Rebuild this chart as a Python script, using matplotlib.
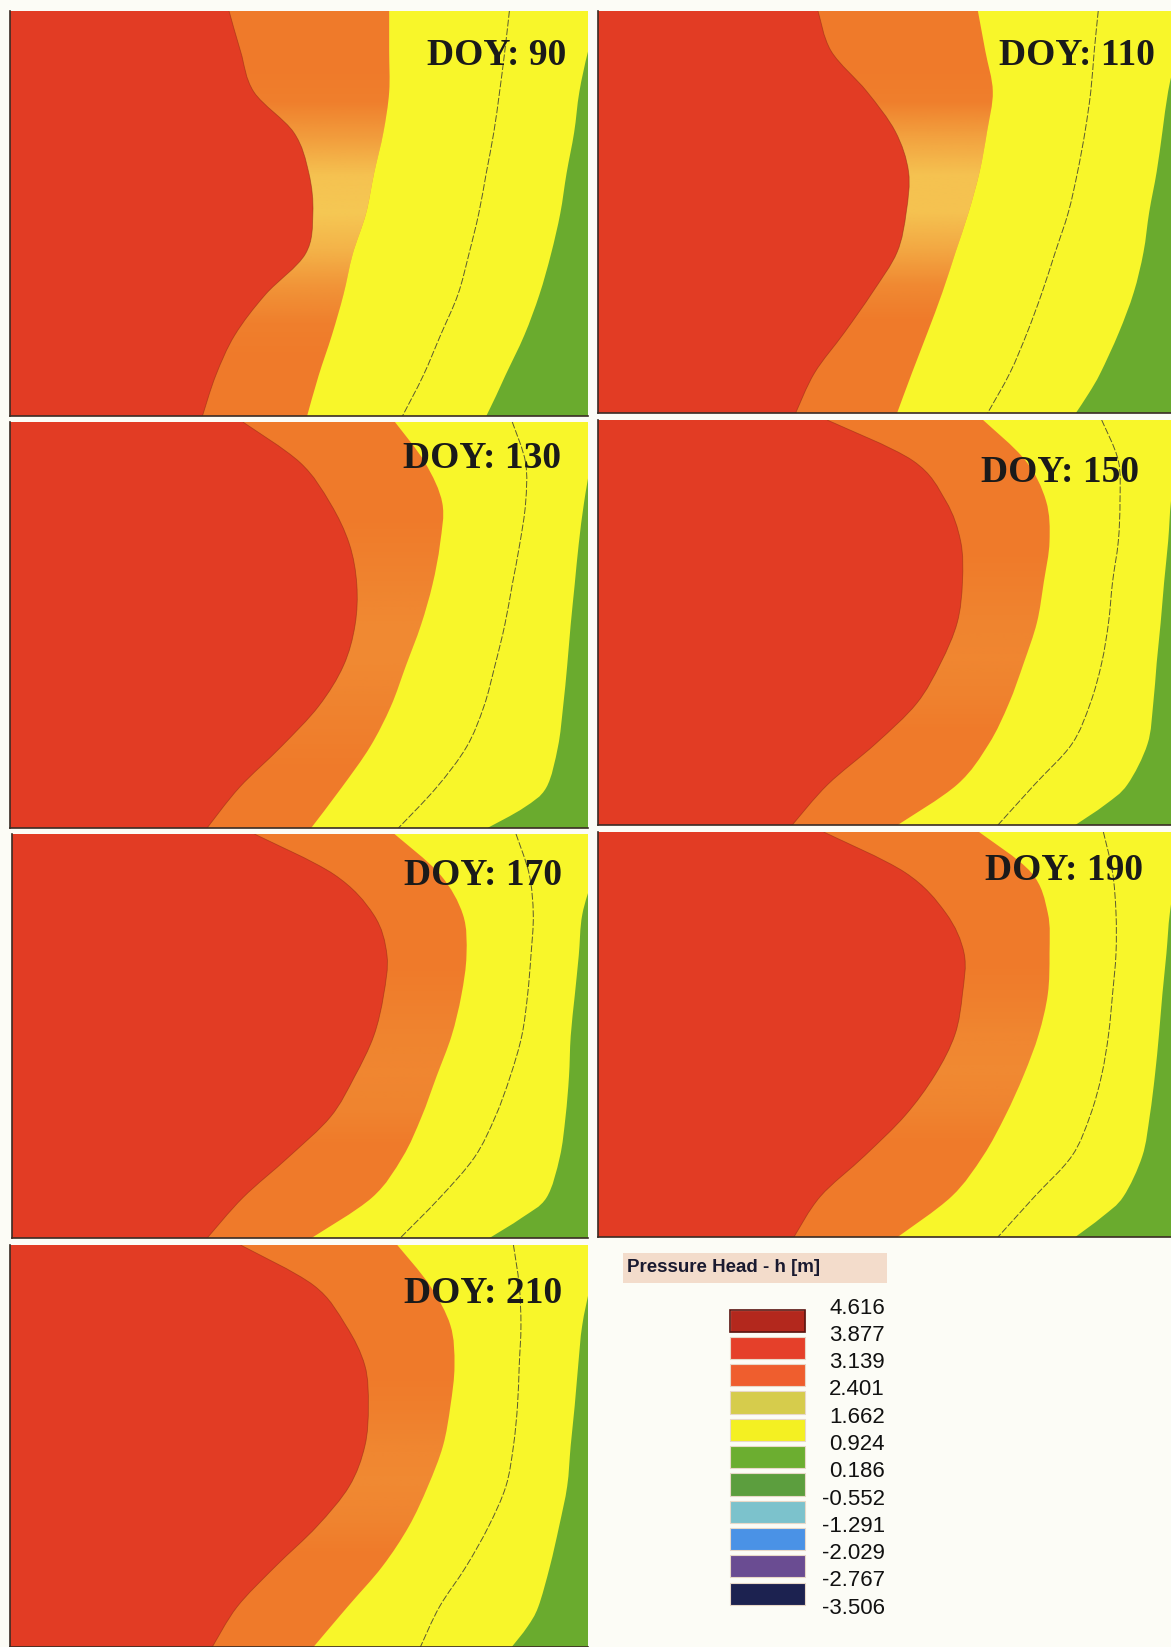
import numpy as np
import matplotlib
matplotlib.use('Agg')
import matplotlib.pyplot as plt
from matplotlib.path import Path
from matplotlib.patches import PathPatch, Rectangle

# Pressure head snapshots, day of year
doy = [90, 110, 130, 150, 170, 190, 210]

# relative depth (0 = top of section, 1 = bottom)
depth = [0.0, 0.1, 0.2, 0.3, 0.4, 0.5, 0.6, 0.7, 0.8, 0.9, 1.0]
depth_green = [0.0, 0.1, 0.2, 0.3, 0.4, 0.5, 0.6, 0.7, 0.8, 0.9, 0.95, 1.0]

# horizontal position (fraction of width) of the 3.139 m contour
edge_3139 = [
    [0.379, 0.399, 0.422, 0.491, 0.517, 0.524, 0.511, 0.442, 0.389, 0.356, 0.333],
    [0.384, 0.407, 0.469, 0.519, 0.542, 0.538, 0.522, 0.479, 0.430, 0.378, 0.345],
    [0.403, 0.502, 0.554, 0.587, 0.600, 0.597, 0.577, 0.534, 0.469, 0.397, 0.341],
    [0.400, 0.549, 0.607, 0.633, 0.636, 0.627, 0.598, 0.556, 0.484, 0.401, 0.339],
    [0.421, 0.559, 0.628, 0.651, 0.645, 0.628, 0.595, 0.553, 0.480, 0.401, 0.339],
    [0.394, 0.536, 0.607, 0.639, 0.636, 0.623, 0.588, 0.536, 0.465, 0.388, 0.342],
    [0.399, 0.525, 0.581, 0.614, 0.620, 0.614, 0.587, 0.531, 0.459, 0.393, 0.350],
]
# 1.662 m contour
edge_1662 = [
    [0.656, 0.656, 0.656, 0.646, 0.630, 0.616, 0.593, 0.577, 0.557, 0.534, 0.514],
    [0.663, 0.676, 0.689, 0.679, 0.666, 0.647, 0.624, 0.601, 0.575, 0.548, 0.522],
    [0.666, 0.718, 0.748, 0.744, 0.731, 0.711, 0.685, 0.659, 0.623, 0.574, 0.521],
    [0.672, 0.746, 0.782, 0.788, 0.778, 0.766, 0.743, 0.717, 0.682, 0.627, 0.523],
    [0.664, 0.743, 0.783, 0.789, 0.780, 0.763, 0.737, 0.711, 0.678, 0.625, 0.520],
    [0.665, 0.756, 0.785, 0.788, 0.785, 0.769, 0.743, 0.711, 0.672, 0.617, 0.523],
    [0.670, 0.726, 0.762, 0.769, 0.762, 0.749, 0.723, 0.690, 0.644, 0.584, 0.525],
]
# thin isoline inside the 0.924-1.662 band
isoline = [
    [0.864, 0.856, 0.847, 0.837, 0.824, 0.811, 0.794, 0.775, 0.745, 0.715, 0.679],
    [0.873, 0.866, 0.860, 0.850, 0.837, 0.821, 0.798, 0.775, 0.749, 0.719, 0.680],
    [0.869, 0.892, 0.892, 0.882, 0.869, 0.856, 0.839, 0.820, 0.790, 0.738, 0.672],
    [0.879, 0.908, 0.911, 0.908, 0.898, 0.891, 0.879, 0.859, 0.827, 0.762, 0.698],
    [0.875, 0.898, 0.905, 0.901, 0.895, 0.885, 0.865, 0.839, 0.803, 0.743, 0.674],
    [0.882, 0.898, 0.904, 0.904, 0.898, 0.891, 0.879, 0.859, 0.827, 0.762, 0.698],
    [0.871, 0.881, 0.884, 0.881, 0.878, 0.871, 0.858, 0.828, 0.789, 0.743, 0.710],
]
# 0.924 m contour (sampled at depth_green)
edge_0924 = [
    [1.020, 1.000, 0.985, 0.976, 0.963, 0.952, 0.936, 0.916, 0.890, 0.857, 0.841, 0.824],
    [1.020, 1.010, 0.995, 0.985, 0.975, 0.962, 0.952, 0.935, 0.909, 0.877, 0.857, 0.834],
    [1.020, 1.005, 0.993, 0.984, 0.977, 0.970, 0.964, 0.957, 0.948, 0.928, 0.889, 0.826],
    [1.030, 1.010, 1.000, 0.995, 0.988, 0.982, 0.975, 0.969, 0.959, 0.924, 0.885, 0.833],
    [1.030, 1.010, 0.990, 0.984, 0.977, 0.970, 0.967, 0.961, 0.951, 0.928, 0.885, 0.829],
    [1.030, 1.010, 0.998, 0.992, 0.985, 0.979, 0.972, 0.963, 0.950, 0.917, 0.880, 0.833],
    [1.030, 1.005, 0.990, 0.983, 0.977, 0.970, 0.964, 0.950, 0.934, 0.914, 0.895, 0.868],
]
# strength of the pale transition zone inside the orange band
pale_zone = [
    [0, 0, 0.05, 0.35, 0.70, 0.75, 0.55, 0.25, 0.05, 0, 0],
    [0, 0, 0.05, 0.40, 0.70, 0.70, 0.45, 0.15, 0, 0, 0],
    [0, 0, 0, 0.05, 0.10, 0.15, 0.15, 0.10, 0.05, 0, 0],
    [0, 0, 0, 0, 0.05, 0.10, 0.12, 0.08, 0, 0, 0],
    [0, 0, 0, 0, 0.05, 0.10, 0.12, 0.10, 0, 0, 0],
    [0, 0, 0, 0, 0.05, 0.12, 0.15, 0.10, 0, 0, 0],
    [0, 0, 0, 0, 0.05, 0.12, 0.15, 0.10, 0, 0, 0],
]

# colour scale
levels = ['4.616', '3.877', '3.139', '2.401', '1.662', '0.924', '0.186',
          '-0.552', '-1.291', '-2.029', '-2.767', '-3.506']
legend_colors = ['#b3281d', '#e5402a', '#ef5e2e', '#d6cc4c', '#f4f022', '#6cae30',
                 '#5c9e3e', '#7cc2cc', '#4a92e6', '#6a4c92', '#1c2250']

RED = '#e23c24'
ORANGE = '#ef7a2a'
YELLOW = '#f8f62a'
GREEN = '#6aab2e'
PALE = '#f8e262'

W, H = 1171, 1647
fig = plt.figure(figsize=(W / 100, H / 100), dpi=100)
fig.patch.set_facecolor('#fcfcf6')

# panel frames in pixels (left, top, right, bottom)
boxes = [(10, 11, 588, 416), (598, 11, 1171, 413),
         (10, 422, 588, 828), (598, 420, 1171, 825),
         (12, 834, 588, 1238), (598, 832, 1171, 1237),
         (10, 1245, 588, 1647)]
# label anchor: right edge and vertical centre, as fractions measured from the top-left
label_pos = [(0.962, 0.111), (0.972, 0.111), (0.953, 0.089), (0.944, 0.130),
             (0.954, 0.103), (0.951, 0.096), (0.955, 0.120)]


def curve(xs, ts):
    # smooth curve through the points (Catmull-Rom as cubic Bezier)
    p = np.column_stack([xs, ts])
    n = len(p)
    verts = [p[0]]
    codes = [Path.MOVETO]
    for i in range(n - 1):
        p0, p1, p2, p3 = p[max(i - 1, 0)], p[i], p[i + 1], p[min(i + 2, n - 1)]
        verts += [p1 + (p2 - p0) / 6, p2 - (p3 - p1) / 6, p2]
        codes += [Path.CURVE4] * 3
    return verts, codes


def left_region(xs, ts):
    verts, codes = curve(xs, ts)
    verts = [(-0.1, ts[0]), (xs[0], ts[0])] + verts[1:] + [(-0.1, ts[-1]), (-0.1, ts[0])]
    codes = [Path.MOVETO, Path.LINETO] + codes[1:] + [Path.LINETO, Path.CLOSEPOLY]
    return Path(verts, codes)


for k, d in enumerate(doy):
    l, t, r, b = boxes[k]
    ax = fig.add_axes([l / W, 1 - b / H, (r - l) / W, (b - t) / H])
    ax.set_facecolor(GREEN)

    ax.add_patch(PathPatch(left_region(edge_0924[k], depth_green), facecolor=YELLOW,
                           edgecolor='none'))
    orange = PathPatch(left_region(edge_1662[k], depth), facecolor=ORANGE, edgecolor='none')
    ax.add_patch(orange)

    glow = np.zeros((len(depth), 1, 4))
    glow[:, 0, :3] = matplotlib.colors.to_rgb(PALE)
    glow[:, 0, 3] = pale_zone[k]
    im = ax.imshow(glow, extent=(0, 1, 1, 0), aspect='auto', interpolation='bilinear')
    im.set_zorder(1)
    im.set_clip_path(orange)

    ax.add_patch(PathPatch(left_region(edge_3139[k], depth), facecolor=RED, edgecolor='none'))
    ax.add_patch(PathPatch(Path(*curve(edge_3139[k], depth)), fill=False,
                           edgecolor='#8a2812', lw=0.6, alpha=0.5))

    iv, ic = curve(isoline[k], depth)
    ax.add_patch(PathPatch(Path(iv, ic), fill=False, edgecolor='#5a5a30',
                           lw=0.7, linestyle=(0, (7, 2))))

    ax.set_xlim(0, 1)
    ax.set_ylim(1, 0)
    ax.set_xticks([])
    ax.set_yticks([])
    for side in ['top', 'right']:
        ax.spines[side].set_visible(False)
    for side in ['left', 'bottom']:
        ax.spines[side].set_color('#3a2c24')
        ax.spines[side].set_linewidth(1.2)

    x_lab, y_lab = label_pos[k]
    ax.text(x_lab, y_lab, 'DOY: %d' % d, ha='right', va='center', zorder=5,
            fontsize=27, fontweight='bold', family='Liberation Serif', color='#1a1a1a')

# colour scale panel, drawn in pixel units
leg = fig.add_axes([598 / W, 0, (W - 598) / W, (H - 1245) / H])
leg.set_xlim(598, W)
leg.set_ylim(H, 1245)
leg.axis('off')

leg.add_patch(Rectangle((623, 1253), 264, 30, facecolor='#f3dccb', edgecolor='none'))
leg.text(627, 1268, 'Pressure Head - h [m]', ha='left', va='center', fontsize=13.5,
         family='Liberation Sans', fontweight='bold', color='#1a1a30')

step = 27.3
top = 1307
centers = [top + step * (i + 0.5) for i in range(len(legend_colors))]
leg.barh(centers, 75, left=730, height=step - 5, color=legend_colors,
         edgecolor='#e8d8c8', linewidth=0.8)
leg.barh(centers[0], 75, left=730, height=step - 5, color='none',
         edgecolor='#5a1410', linewidth=1.2)
for i, lab in enumerate(levels):
    leg.text(885, top + step * i + 1, lab, ha='right', va='center', fontsize=16,
             family='Liberation Sans', color='#111111')

fig.savefig('out.png', dpi=100, facecolor=fig.get_facecolor())
